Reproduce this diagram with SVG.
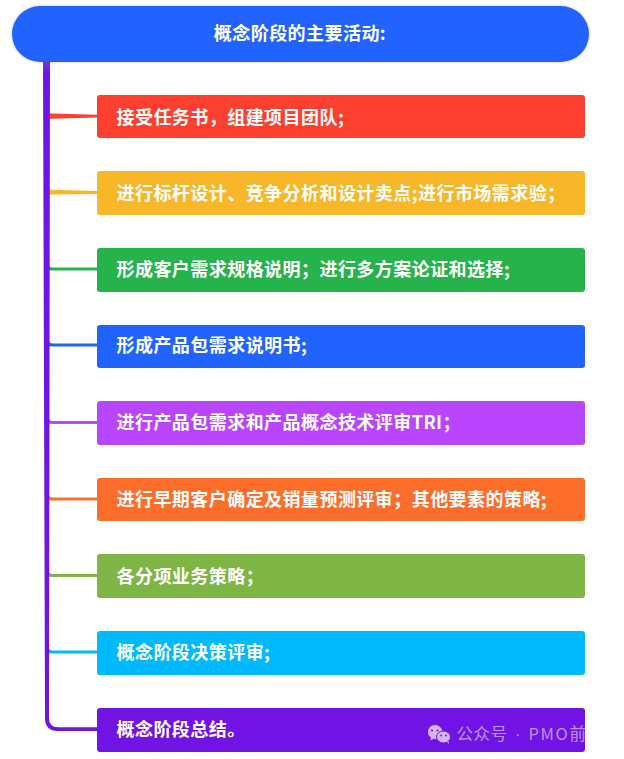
<svg xmlns="http://www.w3.org/2000/svg" width="624" height="759" viewBox="0 0 624 759">
<style>
.t{font-family:"Noto Sans CJK SC","Liberation Sans",sans-serif;font-size:18px;letter-spacing:.45px;font-weight:700;fill:#fff}
.c{fill:none;stroke-width:3.2;stroke-linecap:butt}
.wm{font-family:"Noto Sans CJK SC","Liberation Sans",sans-serif;font-size:16.500px;fill:#fff;fill-opacity:.55;letter-spacing:.5px}
</style>
<defs>
<filter id="s" x="-5%" y="-20%" width="110%" height="140%"><feDropShadow dx="0" dy="0" stdDeviation="1.500" flood-color="#000" flood-opacity=".22"/></filter>
<linearGradient id="sp" gradientUnits="userSpaceOnUse" x1="0" y1="60" x2="0" y2="731"><stop offset="0" stop-color="#6f45c8"/><stop offset=".02" stop-color="#7213e6"/><stop offset="1" stop-color="#7213e6"/></linearGradient>
</defs>
<rect width="624" height="759" fill="#fff"/>
<g id="connectors">
<path d="M47 110Q47 113.500 52 113.500L97 114.800V117.400L52 118.700Q47 118.700 47 122Z" fill="#fc3f2f"/>
<path d="M47 186Q47 189.700 52 189.700L97 191V194L52 194.500Q47 194.500 47 198Z" fill="#f8b629"/>
<path class="c" d="M47 264Q47 269 53 269H97" stroke="#27b34c"/>
<path class="c" d="M47 340Q47 345 53 345H97" stroke="#2163ff"/>
<path class="c" d="M47 417Q47 422.500 53 422.500H97" stroke="#b945ff"/>
<path class="c" d="M47 494Q47 499 53 499H97" stroke="#ff6d2a"/>
<path class="c" d="M47 570Q47 575.500 53 575.500H97" stroke="#7eb545"/>
<path class="c" d="M47 647Q47 652 53 652H97" stroke="#00baff"/>
<path d="M43 60H50L49 718Q49 727.300 58 727.300H97V731H58Q45 731 45 718Z" fill="url(#sp)"/>
</g>
<g id="root"><rect x="12" y="6" width="577" height="56" rx="28" fill="#2163ff" filter="url(#s)"/><text class="t" x="300" y="39.500" text-anchor="middle">概念阶段的主要活动:</text></g>
<g id="n1"><rect x="97" y="95" width="488" height="43" rx="3" fill="#fc3f2f"/><text class="t" x="116.500" y="123.500">接受任务书，组建项目团队;</text></g>
<g id="n2"><rect x="97" y="171" width="488" height="44" rx="3" fill="#f8b629"/><text class="t" x="116.500" y="199.500">进行标杆设计、竞争分析和设计卖点;进行市场需求验；</text></g>
<g id="n3"><rect x="97" y="248" width="488" height="44" rx="3" fill="#27b34c"/><text class="t" x="116.500" y="275.500">形成客户需求规格说明；进行多方案论证和选择;</text></g>
<g id="n4"><rect x="97" y="325" width="488" height="43" rx="3" fill="#2163ff"/><text class="t" x="116.500" y="352">形成产品包需求说明书;</text></g>
<g id="n5"><rect x="97" y="401" width="488" height="44" rx="3" fill="#b945ff"/><text class="t" x="116.500" y="428.500">进行产品包需求和产品概念技术评审TRI；</text></g>
<g id="n6"><rect x="97" y="478" width="488" height="43" rx="3" fill="#ff6d2a"/><text class="t" x="116.500" y="506">进行早期客户确定及销量预测评审；其他要素的策略;</text></g>
<g id="n7"><rect x="97" y="554" width="488" height="44" rx="3" fill="#7eb545"/><text class="t" x="116.500" y="583">各分项业务策略；</text></g>
<g id="n8"><rect x="97" y="631" width="488" height="44" rx="3" fill="#00baff"/><text class="t" x="116.500" y="659">概念阶段决策评审;</text></g>
<g id="n9"><rect x="97" y="708" width="488" height="44" rx="3" fill="#7213e6"/><text class="t" x="116.500" y="736">概念阶段总结。</text></g>
<g id="watermark">
<path d="M435 725C430.500 725 428 728.500 428 732C428 734.500 429.200 736.300 431 737.500L430.500 740.500L433.500 738.800C435 739.300 436 739.300 437 739.300L442 733L442.500 731C441.500 727.500 438.500 725 435 725Z" fill="#d3b4f6"/>
<ellipse cx="443.500" cy="737" rx="7" ry="6" fill="#d3b4f6" stroke="#7213e6" stroke-width="1"/>
<path d="M447 742L449 744L448.500 741Z" fill="#d3b4f6"/>
<circle cx="432" cy="730.500" r="1.100" fill="#7213e6"/><circle cx="437.500" cy="730.500" r="1.100" fill="#7213e6"/>
<circle cx="441" cy="735.500" r=".9" fill="#7213e6"/><circle cx="446" cy="735.500" r=".9" fill="#7213e6"/>
<text class="wm" x="456.500" y="740">公众号</text>
<text class="wm" x="515" y="740" style="font-family:'Liberation Sans',sans-serif">·</text>
<text class="wm" x="528.500" y="740" style="letter-spacing:1.600px">PMO</text>
<text class="wm" x="569.500" y="740">前</text>
<text class="wm" x="586.500" y="740" style="fill-opacity:.5">沿</text>
</g>
</svg>
